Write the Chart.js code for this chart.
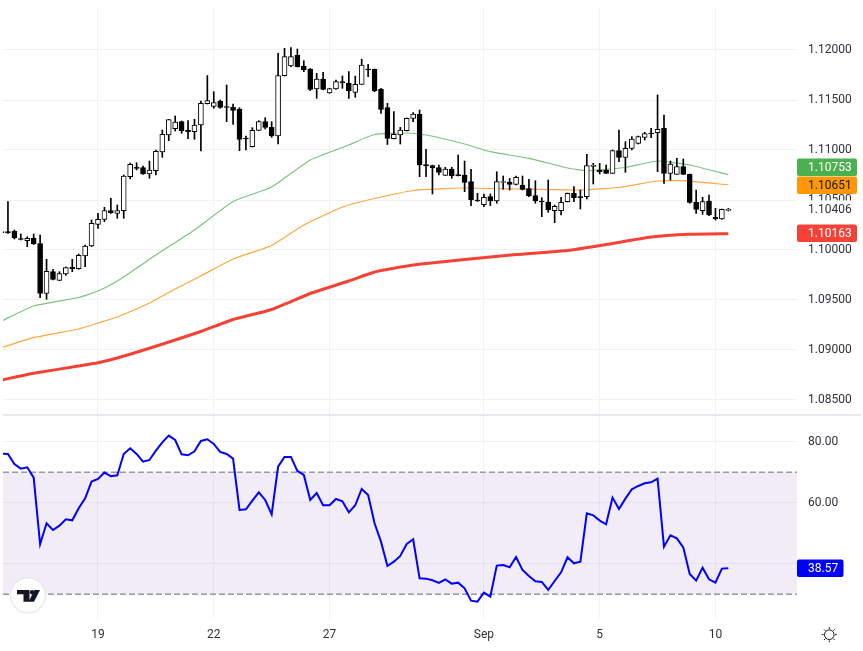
<!DOCTYPE html>
<html lang="en">

<head>
    <meta charset="UTF-8">
    <title>EURUSD 4H</title>
    <script src="https://cdn.jsdelivr.net/npm/chart.js"></script>
    <style>
        body {
            margin: 0;
            background: #fff;
            width: 863px;
            height: 651px;
            overflow: hidden;
            position: relative;
        }

        canvas {
            position: absolute;
            left: 0;
        }

        #priceChart {
            top: 0;
        }

        #rsiChart {
            top: 415px;
        }

        #separator {
            position: absolute;
            left: 3px;
            top: 414px;
            width: 858px;
            height: 2px;
            background: #e8e9ef;
        }

        svg {
            position: absolute;
            left: 0;
            top: 0;
        }
    </style>
</head>

<body>
    <canvas id="priceChart" width="863" height="415"></canvas>
    <canvas id="rsiChart" width="863" height="236"></canvas>
    <div id="separator"></div>
    <svg width="863" height="651">
        <circle cx="28" cy="595.3" r="17.5" fill="#fff" stroke="#e9e9ee" stroke-width="1.5" />
        <path d="M17 590H29.5V601.7H23.5V594.3H17Z" fill="#131722" />
        <circle cx="32" cy="592.3" r="2.2" fill="#131722" />
        <path d="M34.5 590H40L34 601.7H28.5Z" fill="#131722" />
        <g fill="none" stroke="#131722" stroke-width="1">
            <circle cx="829.3" cy="634.7" r="4.8" />
            <path d="M829.3 627.2V629M829.3 640.4V642.2M821.8 634.7H823.6M835 634.7H836.8M824 629.4L825.3 630.7M833.3 638.7L834.6 640M824 640L825.3 638.7M833.3 630.7L834.6 629.4" />
        </g>
    </svg>

    <script>
        const opens = [1.10185, 1.10183, 1.10187, 1.10115, 1.10093, 1.10117, 1.10063, 1.09567, 1.09783, 1.09697,
            1.0976, 1.09827, 1.09813, 1.0994, 1.1004, 1.10257, 1.10307, 1.10393, 1.10367, 1.10393,
            1.10733, 1.10827, 1.10823, 1.1076, 1.10793, 1.1098, 1.1115, 1.11213, 1.11283, 1.11197,
            1.11183, 1.1125, 1.11463, 1.11437, 1.1149, 1.11433, 1.1143, 1.1141, 1.11117, 1.11033,
            1.11197, 1.11283, 1.11227, 1.1114, 1.11743, 1.1184, 1.11947, 1.1184, 1.1181, 1.1161,
            1.1171, 1.1157, 1.1161, 1.11683, 1.11667, 1.11577, 1.11657, 1.11807, 1.11807, 1.11607,
            1.11423, 1.11113, 1.1115, 1.11193, 1.11317, 1.11357, 1.10853, 1.10843, 1.10823, 1.10747,
            1.1081, 1.1075, 1.1075, 1.10683, 1.10497, 1.10453, 1.10533, 1.1049, 1.10675, 1.1068,
            1.10657, 1.1065, 1.10613, 1.10543, 1.1049, 1.1048, 1.10393, 1.10393, 1.10483, 1.10567,
            1.1053, 1.10533, 1.10835, 1.10797, 1.108, 1.10767, 1.10993, 1.10927, 1.11017, 1.11067,
            1.11127, 1.11167, 1.11173, 1.11217, 1.10767, 1.10757, 1.10833, 1.10757, 1.10477, 1.10393,
            1.1049, 1.10327, 1.1031, 1.10395];
        const closes = [1.1017, 1.1017, 1.1012, 1.10105, 1.10117, 1.1006, 1.09567, 1.09787, 1.09707, 1.09763,
            1.09823, 1.09813, 1.09947, 1.1004, 1.10267, 1.10307, 1.10393, 1.10373, 1.10393, 1.1074,
            1.10857, 1.10817, 1.1076, 1.108, 1.10987, 1.11157, 1.11303, 1.1128, 1.1119, 1.11183,
            1.1125, 1.11467, 1.11495, 1.11473, 1.11427, 1.11425, 1.11397, 1.11107, 1.1111, 1.11197,
            1.11283, 1.11227, 1.1114, 1.11743, 1.11933, 1.11933, 1.11833, 1.118, 1.11607, 1.1171,
            1.11607, 1.11613, 1.11683, 1.1167, 1.1159, 1.11657, 1.1185, 1.118, 1.1159, 1.11407,
            1.11117, 1.11157, 1.112, 1.11317, 1.1136, 1.1085, 1.1084, 1.1082, 1.10777, 1.1081,
            1.10743, 1.10743, 1.10677, 1.105, 1.1049, 1.10527, 1.1049, 1.10683, 1.10685, 1.10657,
            1.10727, 1.10607, 1.1054, 1.1049, 1.1048, 1.104, 1.10437, 1.10477, 1.10567, 1.10523,
            1.10523, 1.10843, 1.1085, 1.10783, 1.10767, 1.10993, 1.10927, 1.11017, 1.1111, 1.11133,
            1.11163, 1.1116, 1.11207, 1.10767, 1.1086, 1.10833, 1.10757, 1.10477, 1.10407, 1.10483,
            1.1035, 1.1031, 1.10407, 1.10406];
        const highs = [1.1019, 1.10483, 1.102, 1.1016, 1.10133, 1.1016, 1.1015, 1.09907, 1.09807, 1.09783,
            1.0983, 1.09907, 1.0996, 1.1005, 1.103, 1.10367, 1.10427, 1.10517, 1.1045, 1.1075,
            1.1087, 1.10873, 1.1084, 1.1089, 1.11, 1.112, 1.11307, 1.1134, 1.1129, 1.11293,
            1.11307, 1.1149, 1.11745, 1.11583, 1.115, 1.1165, 1.1146, 1.11423, 1.1114, 1.11223,
            1.11293, 1.11323, 1.11283, 1.11967, 1.12017, 1.12023, 1.1201, 1.11893, 1.11815, 1.11767,
            1.11777, 1.11615, 1.117, 1.1174, 1.11783, 1.1174, 1.11907, 1.11857, 1.1181, 1.11617,
            1.11467, 1.11383, 1.11227, 1.1132, 1.11373, 1.114, 1.11007, 1.1085, 1.1085, 1.10827,
            1.10827, 1.1095, 1.1089, 1.10807, 1.10567, 1.1056, 1.1056, 1.10783, 1.1074, 1.10717,
            1.1074, 1.1074, 1.10707, 1.10693, 1.10523, 1.107, 1.1045, 1.10527, 1.1057, 1.10633,
            1.106, 1.10957, 1.10867, 1.10867, 1.1085, 1.11, 1.112, 1.11083, 1.11133, 1.1114,
            1.11177, 1.11217, 1.1155, 1.1135, 1.1089, 1.10917, 1.1091, 1.1076, 1.106, 1.10527,
            1.1055, 1.10417, 1.1041, 1.10417];
        const lows = [1.1017, 1.10165, 1.1011, 1.101, 1.10033, 1.10055, 1.09523, 1.09507, 1.097, 1.09695,
            1.09747, 1.09783, 1.09807, 1.09833, 1.10033, 1.10217, 1.10283, 1.10367, 1.10317, 1.10317,
            1.1071, 1.108, 1.10755, 1.10717, 1.1075, 1.10927, 1.11093, 1.1119, 1.11167, 1.11113,
            1.11107, 1.1099, 1.1146, 1.11417, 1.11417, 1.11283, 1.11257, 1.10993, 1.11, 1.1103,
            1.11195, 1.1121, 1.11127, 1.1106, 1.1174, 1.11833, 1.1183, 1.11783, 1.11593, 1.11517,
            1.116, 1.11567, 1.11607, 1.11617, 1.11517, 1.11527, 1.11655, 1.11733, 1.11583, 1.11367,
            1.11055, 1.1111, 1.1106, 1.1119, 1.11283, 1.10733, 1.10733, 1.1056, 1.1075, 1.10745,
            1.10717, 1.1074, 1.10583, 1.10443, 1.10485, 1.10433, 1.10443, 1.10467, 1.10607, 1.106,
            1.1065, 1.106, 1.10533, 1.10467, 1.10333, 1.10377, 1.10273, 1.1035, 1.1048, 1.10483,
            1.1041, 1.1051, 1.1066, 1.1076, 1.10765, 1.10765, 1.10883, 1.10777, 1.11, 1.1106,
            1.111, 1.11123, 1.10783, 1.10667, 1.107, 1.10755, 1.10755, 1.10467, 1.10367, 1.10357,
            1.10343, 1.103, 1.10307, 1.1039];

        const ma20Bars = [0, 5, 12, 15, 18, 24, 30, 36, 42, 48, 54, 58, 63, 66, 72, 76, 82, 88, 91, 97, 102, 107, 113];
        const ma20 = [1.0929, 1.0944, 1.09525, 1.0959, 1.0969, 1.0995, 1.102, 1.10485, 1.1063, 1.109, 1.1105, 1.11155,
            1.1117, 1.1115, 1.1106, 1.10983, 1.10917, 1.1082, 1.10793, 1.10825, 1.1089, 1.1085, 1.10753];
        const ma50Bars = [0, 5, 12, 15, 18, 23, 27, 31, 36, 42, 47, 53, 57, 64, 72, 80, 90, 96, 102, 106, 113];
        const ma50 = [1.09023, 1.09123, 1.0921, 1.0927, 1.0933, 1.0947, 1.0961, 1.0974, 1.0991, 1.10045, 1.1025, 1.1043,
            1.105, 1.10595, 1.1062, 1.1061, 1.106, 1.10625, 1.1069, 1.10693, 1.10651];
        const ma100Bars = [0, 5, 12, 15, 18, 23, 31, 36, 42, 48, 54, 58, 64, 72, 80, 88, 94, 101, 107, 113];
        const ma100 = [1.087, 1.08767, 1.0884, 1.08873, 1.0892, 1.09017, 1.09185, 1.09305, 1.09405, 1.09565, 1.0969,
            1.0978, 1.0985, 1.09905, 1.09955, 1.09995, 1.10055, 1.1013, 1.10157, 1.10163];

        const rsiValues = [76.08, 75.97, 72.7, 71.17, 71.6, 68.2, 46.4, 53.26, 51.08, 52.5,
            54.57, 54.24, 58.17, 61.45, 66.91, 67.78, 69.86, 68.66, 68.98, 75.97,
            77.83, 75.97, 73.46, 74.0, 77.06, 79.79, 81.97, 80.55, 75.86, 75.53,
            76.84, 80.23, 80.77, 79.25, 76.62, 75.97, 74.44, 57.63, 57.85, 60.69,
            63.42, 60.9, 56.21, 71.82, 74.99, 74.99, 70.4, 69.09, 60.9, 63.2,
            59.16, 59.16, 61.23, 60.47, 56.86, 59.16, 64.51, 62.54, 53.26, 47.26,
            39.29, 40.71, 42.56, 46.5, 48.02, 35.25, 35.14, 34.59, 33.72, 34.92,
            33.5, 33.83, 31.97, 27.94, 27.61, 30.55, 29.25, 39.4, 39.62, 38.85,
            42.24, 37.98, 36.0, 34.27, 34.05, 31.43, 34.38, 37.22, 42.13, 40.16,
            40.71, 56.54, 55.88, 54.14, 52.93, 61.67, 57.96, 61.34, 64.4, 65.49,
            66.36, 66.69, 67.89, 45.62, 49.33, 48.35, 45.4, 36.67, 34.49, 38.74,
            34.92, 33.83, 38.42, 38.57];

        const dateTickBars = [15, 33, 51, 75, 93, 111];
        const dateTickLabels = ['19', '22', '27', 'Sep', '5', '10'];
        const priceTicks = [1.085, 1.09, 1.095, 1.1, 1.105, 1.11, 1.115, 1.12];
        const rsiTicks = [40, 60, 80];
        const rsiTickLabels = ['', '60.00', '80.00'];
        const rsiBandTop = 70;
        const rsiBandBottom = 30;

        const FONT = { family: 'Roboto', size: 12 };
        const TEXT = '#2f323c';
        const GRID = '#f1f2f5';
        const X_MIN = 0.23;
        const X_MAX = 123.68;

        const toXY = (xs, ys) => ys.map((y, i) => ({ x: xs[i], y: y }));
        const bars = closes.map((_, i) => i);

        // sin esto Chart.js reserva sitio extra para media etiqueta en cada extremo
        function noPadding(s) {
            s.paddingTop = 0;
            s.paddingBottom = 0;
            s.paddingLeft = 0;
            s.paddingRight = 0;
        }

        function xAxis(showLabels) {
            return {
                type: 'linear',
                min: X_MIN,
                max: X_MAX,
                offset: false,
                border: { display: false },
                grid: { color: GRID, offset: false, drawTicks: false },
                afterBuildTicks: s => { s.ticks = dateTickBars.map(v => ({ value: v })); },
                afterFit: s => { s.height = showLabels ? 33 : 0; noPadding(s); },
                ticks: {
                    display: showLabels,
                    autoSkip: false,
                    maxRotation: 0,
                    padding: 10,
                    color: TEXT,
                    font: FONT,
                    callback: v => dateTickLabels[dateTickBars.indexOf(v)]
                }
            };
        }

        function yAxis(min, max, tickList, format) {
            return {
                position: 'right',
                min: min,
                max: max,
                border: { display: false },
                grid: { color: GRID, drawTicks: false },
                afterBuildTicks: s => { s.ticks = tickList.map(v => ({ value: v })); },
                afterFit: s => { s.width = 66; noPadding(s); },
                ticks: { autoSkip: false, padding: 11, color: TEXT, font: FONT, callback: format }
            };
        }

        function maLine(xs, ys, color, width) {
            return {
                type: 'line',
                data: toXY(xs, ys),
                borderColor: color,
                borderWidth: width,
                pointRadius: 0,
                tension: 0.15
            };
        }

        function box(ctx, text, y, width, fill, color) {
            ctx.beginPath();
            ctx.fillStyle = fill;
            ctx.roundRect(797, y - 8.75, width, 17.5, 2);
            ctx.fill();
            ctx.fillStyle = color;
            ctx.font = '12px Roboto';
            ctx.textBaseline = 'middle';
            ctx.textAlign = 'left';
            ctx.fillText(text, 808, y + 0.5);
        }

        const priceLabels = {
            id: 'priceLabels',
            afterDraw(chart) {
                const ctx = chart.ctx;
                const y = chart.scales.y;
                const last = closes[closes.length - 1];
                ctx.save();
                ctx.fillStyle = '#fff';
                ctx.fillRect(798, y.getPixelForValue(last) - 9, 65, 18);
                ctx.fillStyle = TEXT;
                ctx.font = '12px Roboto';
                ctx.textBaseline = 'middle';
                ctx.fillText(last.toFixed(5), 808, y.getPixelForValue(last) + 0.5);

                const red = ma100[ma100.length - 1];
                const orange = ma50[ma50.length - 1];
                const green = ma20[ma20.length - 1];
                box(ctx, red.toFixed(5), y.getPixelForValue(red) - 0.5, 60, '#f44336', '#fff');
                const orangeY = y.getPixelForValue(orange) + 0.4;
                // las etiquetas no se pisan: la verde sube
                const greenY = Math.min(y.getPixelForValue(green), orangeY - 18);
                box(ctx, green.toFixed(5), greenY, 60, '#4caf50', '#fff');
                box(ctx, orange.toFixed(5), orangeY, 60, '#ff9800', '#131722');
                ctx.restore();
            }
        };

        const rsiLabel = {
            id: 'rsiLabel',
            afterDraw(chart) {
                const ctx = chart.ctx;
                const last = rsiValues[rsiValues.length - 1];
                ctx.save();
                box(ctx, last.toFixed(2), chart.scales.y.getPixelForValue(last), 46.5, '#0000ff', '#fff');
                ctx.restore();
            }
        };

        new Chart(document.getElementById('priceChart'), {
            type: 'bar',
            data: {
                datasets: [
                    {
                        data: bars.map(i => ({ x: i, y: [opens[i], closes[i]] })),
                        barThickness: 5,
                        minBarLength: 1,
                        borderWidth: 1,
                        borderSkipped: false,
                        borderColor: '#000',
                        backgroundColor: bars.map(i => closes[i] >= opens[i] ? '#fff' : '#000')
                    },
                    {
                        data: bars.map(i => ({ x: i, y: [lows[i], highs[i]] })),
                        barThickness: 1,
                        backgroundColor: '#000'
                    },
                    maLine(ma100Bars, ma100, '#f44336', 3),
                    maLine(ma50Bars, ma50, '#ffa63d', 1.2),
                    maLine(ma20Bars, ma20, '#7cc47f', 1.2)
                ]
            },
            options: {
                responsive: false,
                animation: false,
                devicePixelRatio: 1,
                layout: { padding: { left: 3, top: 7, right: 0, bottom: 1 } },
                datasets: { bar: { grouped: false } },
                plugins: { legend: { display: false }, tooltip: { enabled: false } },
                scales: {
                    x: xAxis(false),
                    y: yAxis(1.0836, 1.1243, priceTicks, v => v.toFixed(5))
                }
            },
            plugins: [priceLabels]
        });

        new Chart(document.getElementById('rsiChart'), {
            type: 'line',
            data: {
                datasets: [
                    {
                        data: toXY(bars, rsiValues),
                        borderColor: '#0000ff',
                        borderWidth: 2,
                        pointRadius: 0,
                        tension: 0
                    },
                    {
                        data: [{ x: X_MIN, y: rsiBandTop }, { x: X_MAX, y: rsiBandTop }],
                        borderColor: '#9a9ca5',
                        borderWidth: 1.5,
                        borderDash: [6, 3],
                        pointRadius: 0,
                        backgroundColor: 'rgba(130, 80, 170, 0.11)',
                        fill: '+1'
                    },
                    {
                        data: [{ x: X_MIN, y: rsiBandBottom }, { x: X_MAX, y: rsiBandBottom }],
                        borderColor: '#9a9ca5',
                        borderWidth: 1.5,
                        borderDash: [6, 3],
                        pointRadius: 0
                    }
                ]
            },
            options: {
                responsive: false,
                animation: false,
                devicePixelRatio: 1,
                layout: { padding: { left: 3, top: 1, right: 0, bottom: 0 } },
                plugins: { legend: { display: false }, tooltip: { enabled: false } },
                scales: {
                    x: xAxis(true),
                    y: yAxis(22.25, 88.4, rsiTicks, v => rsiTickLabels[rsiTicks.indexOf(v)])
                }
            },
            plugins: [rsiLabel]
        });
    </script>
</body>

</html>
